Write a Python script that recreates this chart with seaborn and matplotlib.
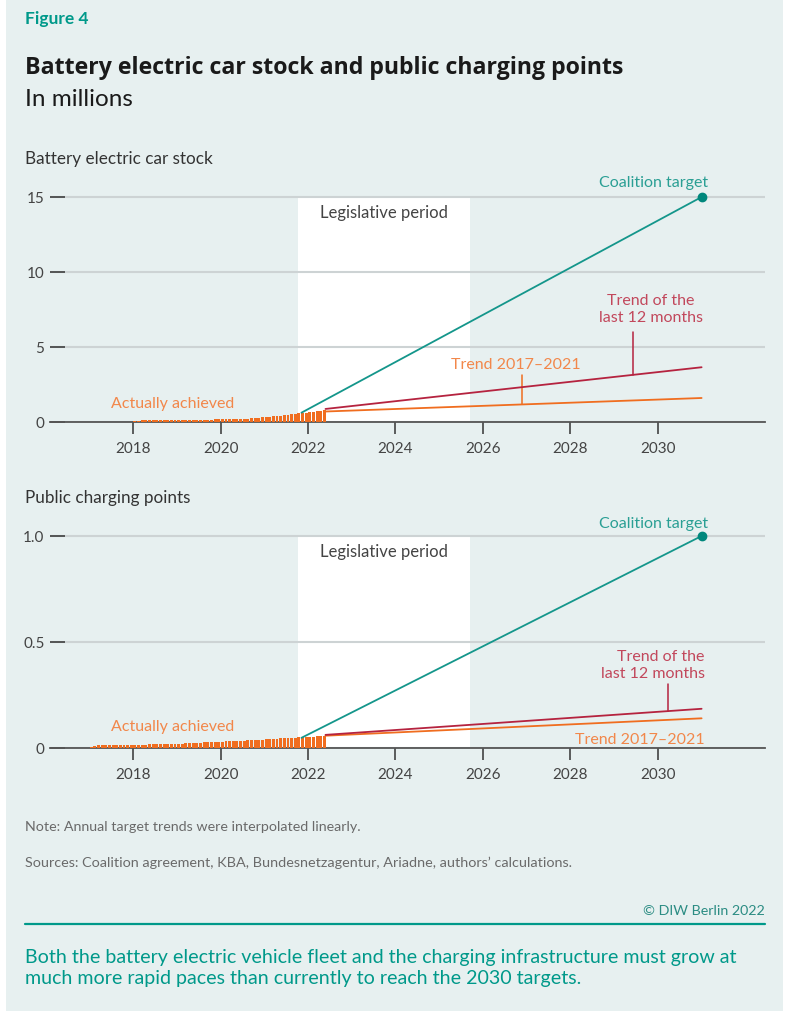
import numpy as np
import pandas as pd
import matplotlib.pyplot as plt
import seaborn as sns
from matplotlib.patches import Rectangle

sns.set_theme(style="white")
plt.rcParams['font.family'] = ['Lato', 'DejaVu Sans']

# --- data (millions) ---
car_months = pd.date_range("2018-01-01", "2022-05-01", freq="MS")
car_stock = [
    0.100, 0.100, 0.105, 0.105, 0.110, 0.110, 0.115, 0.115, 0.120, 0.120, 0.120, 0.125,
    0.130, 0.135, 0.140, 0.140, 0.145, 0.150, 0.150, 0.155, 0.160, 0.165, 0.170, 0.175,
    0.180, 0.185, 0.190, 0.195, 0.200, 0.205, 0.215, 0.225, 0.240, 0.260, 0.285, 0.309,
    0.325, 0.345, 0.372, 0.396, 0.422, 0.455, 0.488, 0.515, 0.548, 0.578, 0.608, 0.618,
    0.650, 0.690, 0.728, 0.760, 0.790,
]
charge_months = pd.date_range("2017-01-01", "2022-05-01", freq="MS")
charge_points = [
    0.007, 0.008, 0.012, 0.012, 0.013, 0.013, 0.013, 0.014, 0.014, 0.014, 0.015, 0.015,
    0.015, 0.015, 0.016, 0.016, 0.017, 0.017, 0.018, 0.018, 0.019, 0.019, 0.020, 0.020,
    0.021, 0.021, 0.022, 0.023, 0.024, 0.024, 0.025, 0.026, 0.027, 0.027, 0.028, 0.029,
    0.030, 0.031, 0.032, 0.033, 0.034, 0.034, 0.035, 0.036, 0.037, 0.038, 0.039, 0.040,
    0.041, 0.042, 0.043, 0.044, 0.045, 0.046, 0.047, 0.048, 0.049, 0.050, 0.051, 0.052,
    0.053, 0.054, 0.055, 0.056, 0.057,
]

legislative_period = [2021.77, 2025.70]

car_target_x, car_target_y = [2021.85, 2031.0], [0.62, 15.0]
car_trend12_x, car_trend12_y = [2022.4, 2031.0], [0.87, 3.65]
car_trend17_x, car_trend17_y = [2022.4, 2031.0], [0.70, 1.60]

charge_target_x, charge_target_y = [2021.85, 2031.0], [0.048, 1.0]
charge_trend12_x, charge_trend12_y = [2022.4, 2031.0], [0.062, 0.185]
charge_trend17_x, charge_trend17_y = [2022.4, 2031.0], [0.058, 0.14]

car_yticks, car_ylabels = [0, 5, 10, 15], ["0", "5", "10", "15"]
charge_yticks, charge_ylabels = [0, 0.5, 1.0], ["0", "0.5", "1.0"]
year_ticks = [2018, 2020, 2022, 2024, 2026, 2028, 2030]

# --- colours ---
BG = "#e7f0f0"
TEAL = "#14968b"
TEAL_TXT = "#2a9f94"
RED = "#b5233f"
RED_TXT = "#c2485c"
ORANGE = "#f06d1f"
ORANGE_TXT = "#f2874a"
DARK = "#333333"
GRID = "#cdd3d4"

W, H = 789, 1012
fig = plt.figure(figsize=(W / 100, H / 100), dpi=100, facecolor="white")
fig.patches.append(Rectangle((6 / W, 0), 777 / W, 1, transform=fig.transFigure,
                             facecolor=BG, edgecolor="none", zorder=-10))


def px(x, y):
    return x / W, 1 - y / H


def dec_year(months):
    return months.year + (months.month - 0.5) / 12


def draw_panel(ax, months, values, ymax, yticks, ylabels, target, trend12, trend17):
    ax.set_facecolor("none")
    ax.fill_betweenx([0, yticks[-1]], legislative_period[0], legislative_period[1],
                     color="white", lw=0, zorder=0.3)
    sns.barplot(x=dec_year(months), y=values, native_scale=True, color=ORANGE,
                saturation=1, width=0.8, errorbar=None, linewidth=0, ax=ax, zorder=3)
    sns.lineplot(x=trend17[0], y=trend17[1], color=ORANGE, lw=1.3, ax=ax, zorder=3)
    sns.lineplot(x=trend12[0], y=trend12[1], color=RED, lw=1.3, ax=ax, zorder=3)
    sns.lineplot(x=target[0], y=target[1], color=TEAL, lw=1.3, ax=ax, zorder=3)
    ax.plot(target[0][-1], target[1][-1], "o", color="#00877c", ms=6, zorder=4)

    ax.set_xlim(2016.10, 2032.45)
    ax.set_ylim(0, ymax)
    ax.set_xticks(year_ticks, [str(y) for y in year_ticks])
    ax.set_yticks(yticks, ylabels)
    ax.set_xlabel("")
    ax.set_ylabel("")
    ax.set_axisbelow(True)
    ax.yaxis.grid(True, color=GRID, lw=1.5)
    ax.xaxis.grid(False)
    for s in ["left", "right", "top"]:
        ax.spines[s].set_visible(False)
    ax.spines["bottom"].set_color("#555555")
    ax.spines["bottom"].set_linewidth(1.3)
    ax.spines["bottom"].set_zorder(2)
    ax.tick_params(axis="y", direction="in", length=10.8, width=1.1, color=DARK,
                   pad=4, labelsize=11, labelcolor="#444444", left=True)
    ax.tick_params(axis="x", direction="out", length=8.6, width=1.1, color=DARK,
                   pad=5, labelsize=11, labelcolor="#444444", bottom=True)


def trend_value(xs, ys, x):
    return np.interp(x, xs, ys)


# --- top panel: car stock ---
ax1 = fig.add_axes([50 / W, 1 - 423 / H, 715 / W, 247.5 / H])
car_target = (car_target_x, car_target_y)
car_t12 = (car_trend12_x, car_trend12_y)
car_t17 = (car_trend17_x, car_trend17_y)
draw_panel(ax1, car_months, car_stock, 16.5, car_yticks, car_ylabels, car_target, car_t12, car_t17)

ax1.text(2029.9, 16.0, "Coalition target", color=TEAL_TXT, fontsize=11.5, ha="center", va="center")
ax1.text(2023.74, 14.0, "Legislative period", color="#444444", fontsize=12, ha="center", va="center")
ax1.text(2029.84, 7.57, "Trend of the\nlast 12 months", color=RED_TXT, fontsize=11.5,
         ha="center", va="center", linespacing=1.3)
ax1.text(2026.75, 3.87, "Trend 2017\u20132021", color=ORANGE_TXT, fontsize=11.5, ha="center", va="center")
ax1.text(2018.91, 1.27, "Actually achieved", color=ORANGE_TXT, fontsize=11.5, ha="center", va="center")
x_lead = 2029.43
ax1.plot([x_lead, x_lead], [trend_value(car_trend12_x, car_trend12_y, x_lead), 6.0], color=RED, lw=1.1)
x_lead = 2026.90
ax1.plot([x_lead, x_lead], [trend_value(car_trend17_x, car_trend17_y, x_lead), 3.13], color=ORANGE, lw=1.1)

# --- bottom panel: charging points ---
ax2 = fig.add_axes([50 / W, 1 - 749 / H, 715 / W, 233.2 / H])
charge_target = (charge_target_x, charge_target_y)
charge_t12 = (charge_trend12_x, charge_trend12_y)
charge_t17 = (charge_trend17_x, charge_trend17_y)
draw_panel(ax2, charge_months, charge_points, 1.1, charge_yticks, charge_ylabels,
           charge_target, charge_t12, charge_t17)

ax2.text(2029.9, 1.061, "Coalition target", color=TEAL_TXT, fontsize=11.5, ha="center", va="center")
ax2.text(2023.74, 0.929, "Legislative period", color="#444444", fontsize=12, ha="center", va="center")
ax2.text(2031.07, 0.394, "Trend of the\nlast 12 months", color=RED_TXT, fontsize=11.5,
         ha="right", va="center", linespacing=1.3)
ax2.text(2031.07, 0.042, "Trend 2017\u20132021", color=ORANGE_TXT, fontsize=11.5, ha="right", va="center")
ax2.text(2018.91, 0.104, "Actually achieved", color=ORANGE_TXT, fontsize=11.5, ha="center", va="center")
x_lead = 2030.24
ax2.plot([x_lead, x_lead], [trend_value(charge_trend12_x, charge_trend12_y, x_lead), 0.302], color=RED, lw=1.1)

# --- header / footer texts ---
fig.text(*px(25, 19), "Figure 4", color="#00998a", fontsize=12.5, fontweight="bold", va="center")
fig.text(*px(25, 68), "Battery electric car stock and public charging points", color="#1a1a1a",
         fontsize=16.7, fontweight="bold", va="center", family=["Open Sans", "DejaVu Sans"])
fig.text(*px(25, 100), "In millions", color="#1a1a1a", fontsize=17.5, va="center")
fig.text(*px(25, 159), "Battery electric car stock", color=DARK, fontsize=12.3, va="center")
fig.text(*px(25, 498), "Public charging points", color=DARK, fontsize=12.3, va="center")
fig.text(*px(25, 827), "Note: Annual target trends were interpolated linearly.", color="#6a6a6a",
         fontsize=10.3, va="center")
fig.text(*px(25, 863), "Sources: Coalition agreement, KBA, Bundesnetzagentur, Ariadne, authors\u2019 calculations.",
         color="#6a6a6a", fontsize=10.4, va="center")
fig.text(*px(765, 911), "\u00a9 DIW Berlin 2022", color="#2b8c83", fontsize=10.3, ha="right", va="center")
fig.add_artist(plt.Line2D([25 / W, 765 / W], [1 - 925 / H, 1 - 925 / H], color="#00998a", lw=1.6))
fig.text(*px(25, 968), "Both the battery electric vehicle fleet and the charging infrastructure must grow at\n"
         "much more rapid paces than currently to reach the 2030 targets.",
         color="#00998a", fontsize=14.1, va="center", linespacing=1.3)

fig.savefig("out.png", dpi=100, facecolor=fig.get_facecolor())
